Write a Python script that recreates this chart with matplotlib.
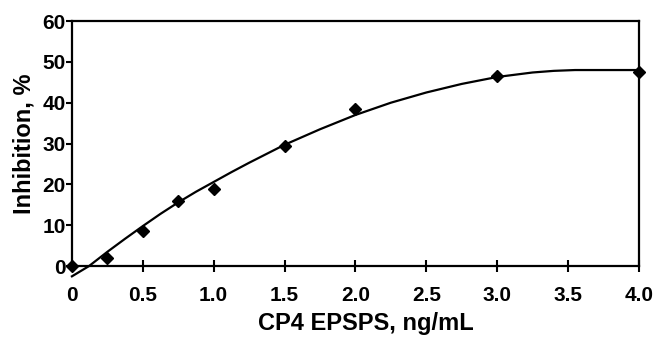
import numpy as np
import matplotlib.pyplot as plt

plt.rcParams['font.family'] = ['Liberation Sans', 'DejaVu Sans']
plt.rcParams['font.weight'] = 'bold'

# measured points
conc = [0, 0.25, 0.5, 0.75, 1.0, 1.5, 2.0, 3.0, 4.0]
inhib = [0, 2, 8.5, 16, 19, 29.5, 38.5, 46.5, 47.5]

# fitted curve
curve_x = [0, 0.12, 0.25, 0.375, 0.5, 0.625, 0.75, 0.875, 1.0, 1.125, 1.25, 1.375, 1.5,
           1.75, 2.0, 2.25, 2.5, 2.75, 3.0, 3.25, 3.4, 3.55, 4.0]
curve_y = [-2.5, 0, 3.5, 6.7, 9.8, 12.8, 15.6, 18.2, 20.6, 23.0, 25.3, 27.5, 29.7,
           33.5, 37.0, 40.0, 42.5, 44.6, 46.3, 47.4, 47.8, 48.0, 48.0]

fig = plt.figure(figsize=(6.6, 3.39), dpi=100)
ax = fig.add_axes([0.109, 0.215, 0.859, 0.723])

ax.plot(curve_x, curve_y, color='black', lw=1.6, clip_on=False)
ax.plot(conc, inhib, 'D', color='black', ms=6.5, clip_on=False, zorder=5)

ax.set_xlim(0, 4)
ax.set_ylim(0, 60)
ax.set_xticks([0, 0.5, 1.0, 1.5, 2.0, 2.5, 3.0, 3.5, 4.0])
ax.set_xticklabels(['0', '0.5', '1.0', '1.5', '2.0', '2.5', '3.0', '3.5', '4.0'])
ax.set_yticks([0, 10, 20, 30, 40, 50, 60])

for s in ax.spines.values():
    s.set_linewidth(1.6)

ax.tick_params(axis='x', direction='inout', length=9, width=1.5, labelsize=15, pad=10)
ax.tick_params(axis='y', direction='out', length=4, width=1.5, labelsize=15, pad=0.5)

ax.set_xlabel('CP4 EPSPS, ng/mL', fontsize=17, fontweight='bold', labelpad=5)
ax.xaxis.label.set_x(0.518)
ax.set_ylabel('Inhibition, %', fontsize=17, fontweight='bold', labelpad=5)

plt.savefig('out.png', dpi=100)
